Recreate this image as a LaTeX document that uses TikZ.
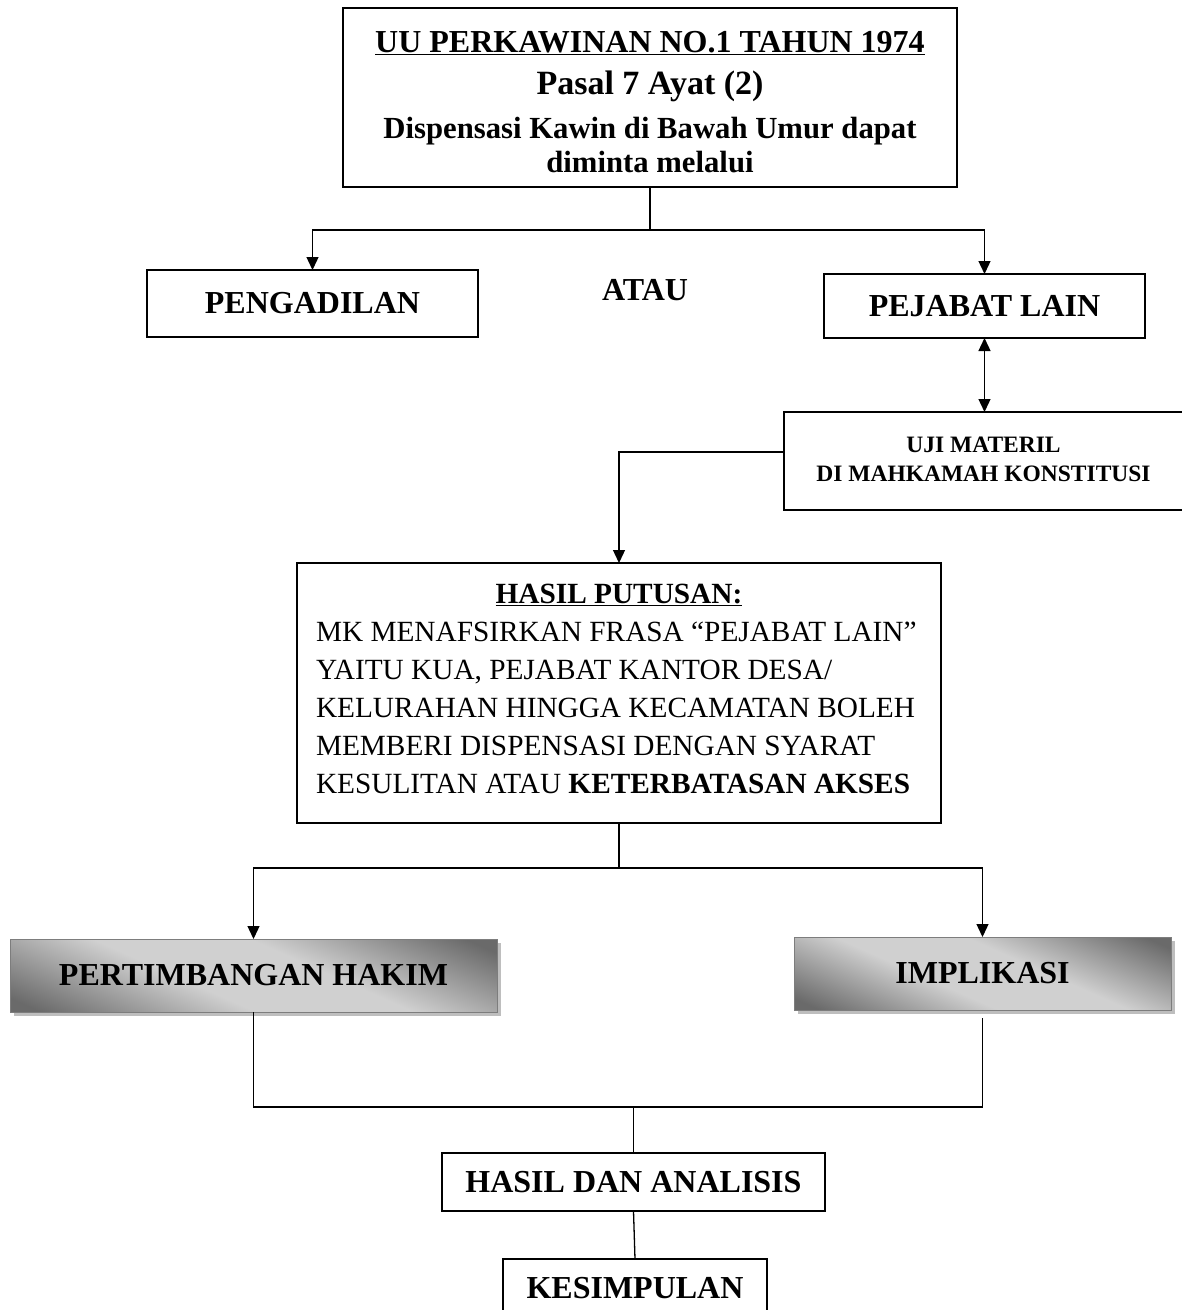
\documentclass[tikz,border=0pt]{standalone}
\usepackage{fontspec}
\setmainfont{Liberation Serif}
\usetikzlibrary{arrows.meta, calc, shadows}
\definecolor{bardark}{RGB}{106,106,106}
\definecolor{barlight}{RGB}{208,208,208}
\definecolor{barrim}{RGB}{125,125,125}
\definecolor{barshadow}{RGB}{190,190,190}
\pgfdeclarehorizontalshading{silverbar}{100bp}{color(0bp)=(bardark); color(20bp)=(bardark); color(42bp)=(barlight); color(58bp)=(barlight); color(80bp)=(bardark); color(100bp)=(bardark)}
\newcommand{\plainspaces}{\spaceskip=0pt\xspaceskip=0pt\relax}

\tikzset{
  box/.style={draw, line width=1.6pt, rectangle, inner sep=0pt, outer sep=0pt},
  biglabel/.style={font=\fontsize{32}{38}\selectfont\bfseries},
  graybar/.style={draw=barrim, line width=1pt, shade, shading=silverbar, shading angle=66,
    drop shadow={shadow xshift=4pt, shadow yshift=-4pt, fill=barshadow, opacity=1},
    inner sep=0pt, outer sep=0pt},
  link/.style={line width=1.3pt},
  arr/.style={link, -{Triangle[length=13pt, width=12pt]}},
}

\begin{document}
\begin{tikzpicture}[x=1pt, y=-1pt]
  \useasboundingbox (0,0) rectangle (1182,1310);
  % Top: the law article
  \node[box, minimum width=614pt, minimum height=179pt, text width=600pt] (uu) at (650,97.5)
    {\hrule height0pt\vspace{9pt}\plainspaces\centering
     \fontsize{32}{38}\selectfont\bfseries\underline{UU PERKAWINAN NO.1 TAHUN 1974}\par
     \fontsize{34}{42}\selectfont Pasal 7 Ayat (2)\par
     \fontsize{30.7}{44}\selectfont Dispensasi Kawin di Bawah Umur dapat\par
     \fontsize{30.7}{34}\selectfont diminta melalui\par};
  \node[box, biglabel, minimum width=331pt, minimum height=67pt] (pengadilan) at (312.5,303.5) {PENGADILAN};
  \node[biglabel] (atau) at (645,290) {ATAU};
  \node[box, biglabel, minimum width=321pt, minimum height=64pt] (pejabat) at (984.5,306) {PEJABAT LAIN};
  \node[box, minimum width=399pt, minimum height=98pt, text width=390pt,
    font=\fontsize{23.5}{29}\selectfont\bfseries] (uji) at (983.5,461)
    {\plainspaces\centering UJI MATERIL\par DI MAHKAMAH KONSTITUSI\par\vspace{3pt}\hrule height0pt};
  % Middle: the ruling
  \node[box, minimum width=644pt, minimum height=260pt, text width=606pt,
    font=\fontsize{29.3}{38}\selectfont] (putusan) at (619,693)
    {\plainspaces\raggedright
     \makebox[\linewidth]{\bfseries\underline{HASIL PUTUSAN:}}\par
     MK MENAFSIRKAN FRASA “PEJABAT LAIN”\par
     YAITU KUA, PEJABAT KANTOR DESA/\par
     KELURAHAN HINGGA KECAMATAN BOLEH\par
     MEMBERI DISPENSASI DENGAN SYARAT\par
     KESULITAN ATAU \textbf{KETERBATASAN AKSES}\par\vspace{9pt}\hrule height0pt};
  \node[graybar, biglabel, minimum width=487pt, minimum height=73pt] (hakim) at (253.5,975.5) {PERTIMBANGAN HAKIM};
  \node[graybar, biglabel, minimum width=377pt, minimum height=73pt] (implikasi) at (982.5,973.5) {IMPLIKASI};
  % Bottom
  \node[box, biglabel, minimum width=383pt, minimum height=58pt] (analisis) at (633.5,1182) {HASIL DAN ANALISIS};
  \node[box, biglabel, minimum width=264pt, minimum height=59pt] (kesimpulan) at (635,1288.5) {KESIMPULAN};

  % connectors
  \draw[link] (uu.south) -- ++(0,43) coordinate (fork1);
  \draw[arr] (fork1) -| (pengadilan.north);
  \draw[arr] (fork1) -| (pejabat.north);
  \draw[link, {Triangle[length=13pt, width=12pt]}-{Triangle[length=13pt, width=12pt]}]
    (pejabat.south) -- (pejabat.south |- uji.north);
  \draw[arr] ([yshift=9pt]uji.west) -| (putusan.north);
  \draw[link] (putusan.south) -- ++(0,45) coordinate (fork2);
  \draw[arr] (fork2) -| (hakim.north);
  \draw[arr] (fork2) -| (implikasi.north);
  \coordinate (merge) at ($(analisis.north)+(0,-46)$);
  \draw[link] (hakim.south) |- (merge) -| ([yshift=-8pt]implikasi.south);
  \draw[link] (merge) -- (analisis.north);
  \draw[link] (analisis.south) -- (kesimpulan.north);
\end{tikzpicture}
\end{document}
